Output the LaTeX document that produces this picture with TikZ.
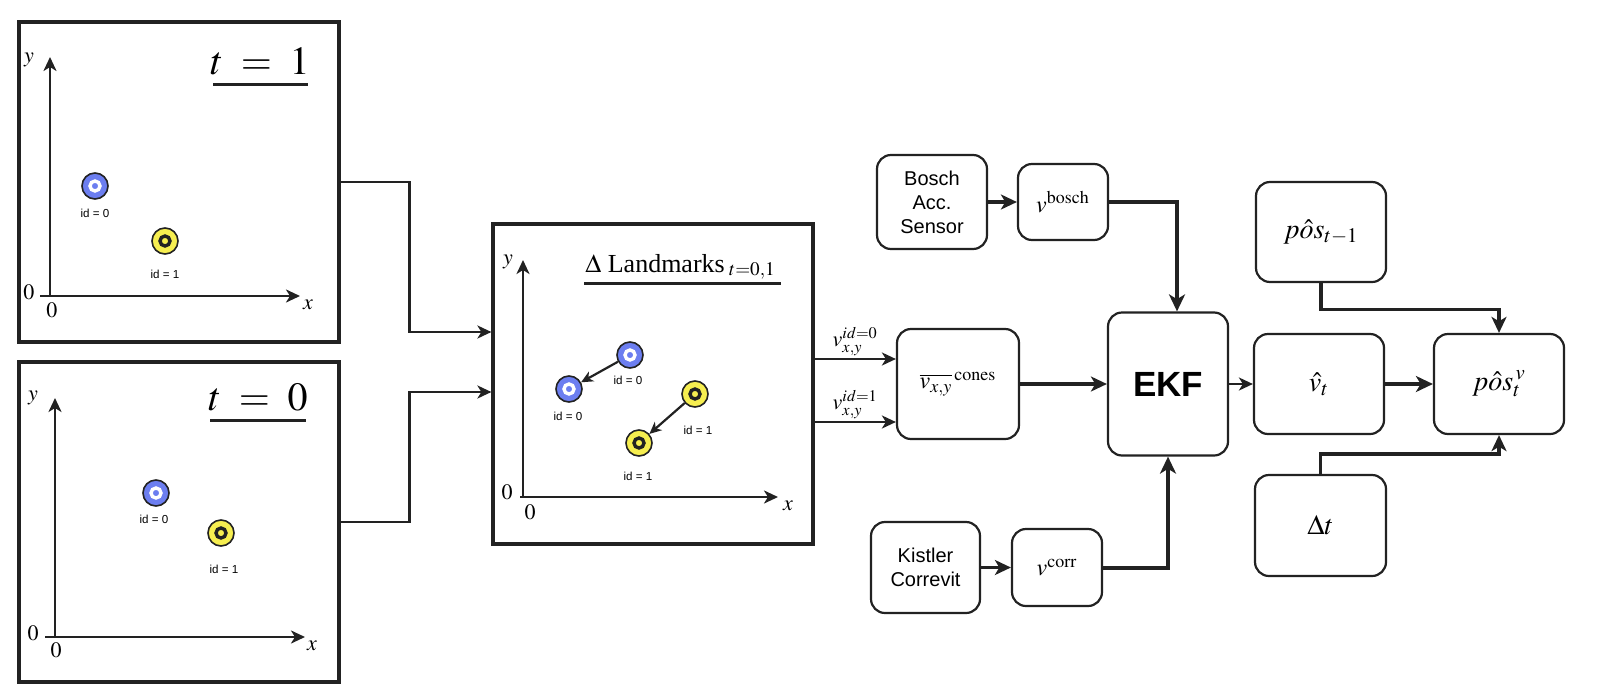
\documentclass[tikz,border=0pt]{standalone}
\usepackage{mathptmx}
\usepackage{fontspec}
\setmainfont{Liberation Serif}
\newfontfamily\sansf{Liberation Sans}
\usetikzlibrary{arrows.meta}
\definecolor{ink}{RGB}{34,34,34}
\definecolor{lmblue}{RGB}{108,126,240}
\definecolor{lmyellow}{RGB}{246,238,80}

\begin{document}
\begin{tikzpicture}[x=0.5pt,y=-0.5pt,
  >={Stealth[length=7pt,width=6.5pt,inset=2pt]},
  panel/.style={draw=ink, line width=1.6pt, minimum width=160pt, minimum height=160pt, inner sep=0},
  blk/.style={draw=ink, line width=1.1pt, rounded corners=7pt, align=center, inner sep=0, font=\fontsize{10}{12}\selectfont\sansf},
  mblk/.style={blk, font=\fontsize{12}{14}\selectfont},
  axline/.style={->, draw=ink, line width=1.3pt},
  axlbl/.style={inner sep=0, font=\fontsize{11}{13}\selectfont},
  ttl/.style={inner sep=0, anchor=base},
  uline/.style={draw=ink, line width=1.5pt},
  lmb/.style={circle, draw=ink, line width=0.8pt, fill=lmblue, minimum size=13pt, inner sep=0,
    path picture={\draw[white, line width=1.7pt] (path picture bounding box.center) circle (2.5pt);}},
  lmy/.style={circle, draw=ink, line width=0.8pt, fill=lmyellow, minimum size=13pt, inner sep=0,
    path picture={\draw[ink, line width=1.7pt] (path picture bounding box.center) circle (2.5pt);}},
  idlbl/.style={inner sep=0, font=\fontsize{5.8}{7}\selectfont\sansf},
  move/.style={->, draw=ink, line width=1.1pt, >={Stealth[length=6pt,width=5.5pt,inset=1.8pt]}},
  conn/.style={->, draw=ink, line width=1.3pt},
  thk/.style={->, draw=ink, line width=1.6pt, >={Stealth[length=8pt,width=7.5pt,inset=2.2pt]}},
  heavy/.style={->, draw=ink, line width=2pt, >={Stealth[length=8.5pt,width=8pt,inset=2.4pt]}},
  vlbl/.style={inner sep=1pt, font=\fontsize{11}{13}\selectfont}]
\useasboundingbox (0,0) rectangle (1615,685);

% input frames
\node[panel] (p1) at (179,182) {};
\node[panel] (p0) at (179,522) {};
\node[panel] (pd) at (653,384) {};

% frame t = 1
\draw[axline] (40,296) -- (300,296);
\draw[axline] (50,296) -- (50,57);
\node[axlbl] (y1) at (29,60) {$y$};
\node[axlbl] (x1) at (308,305) {$x$};
\node[axlbl] (oa1) at (29,292) {$0$};
\node[axlbl] (ob1) at (52,310) {$0$};
\node[ttl, font=\fontsize{20}{24}\selectfont] (t1) at (260,74) {$t\;=\;1$};
\draw[uline] (213,84) -- (308,84);
\node[lmb] (b1) at (95,186) {};
\node[idlbl] (b1l) at (95,213) {id = 0};
\node[lmy] (c1) at (165,241) {};
\node[idlbl] (c1l) at (165,274) {id = 1};

% frame t = 0
\draw[axline] (45,637) -- (305,637);
\draw[axline] (55,637) -- (55,398);
\node[axlbl] (y0) at (33,398) {$y$};
\node[axlbl] (x0) at (312,646) {$x$};
\node[axlbl] (oa0) at (33,633) {$0$};
\node[axlbl] (ob0) at (56,650) {$0$};
\node[ttl, font=\fontsize{20}{24}\selectfont] (t0) at (258,410) {$t\;=\;0$};
\draw[uline] (210,420) -- (306,420);
\node[lmb] (b0) at (156,493) {};
\node[idlbl] (b0l) at (154,519) {id = 0};
\node[lmy] (c0) at (221,533) {};
\node[idlbl] (c0l) at (224,569) {id = 1};

% delta frame
\draw[axline] (520,497) -- (778,497);
\draw[axline] (523,497) -- (523,260);
\node[axlbl] (yd) at (508,262) {$y$};
\node[axlbl] (xd) at (788,506) {$x$};
\node[axlbl] (oad) at (507,492) {$0$};
\node[axlbl] (obd) at (530,512) {$0$};
\node[ttl, anchor=base west, font=\fontsize{13}{15}\selectfont] (td) at (585,272) {$\Delta$ Landmarks\,$_{t=0,1}$};
\draw[uline] (584,283) -- (781,283);
\node[lmb] (bA) at (630,355) {};
\node[idlbl] (bAl) at (628,380) {id = 0};
\node[lmb] (bB) at (569,389) {};
\node[idlbl] (bBl) at (568,416) {id = 0};
\node[lmy] (cA) at (695,394) {};
\node[idlbl] (cAl) at (698,430) {id = 1};
\node[lmy] (cB) at (639,443) {};
\node[idlbl] (cBl) at (638,476) {id = 1};
\draw[move] (bA) -- (bB);
\draw[move] (cA) -- (cB);

% blocks
\node[blk, minimum width=55pt, minimum height=47pt] (bosch) at (932,202) {Bosch\\Acc.\\Sensor};
\node[mblk, minimum width=45pt, minimum height=38pt] (vbosch) at (1063,202) {$v^{\mathrm{bosch}}$};
\node[mblk, minimum width=61pt, minimum height=55pt] (cones) at (958,384) {$\overline{v_{x,y}}^{\,\mathrm{cones}}$};
\node[blk, minimum width=60pt, minimum height=71.5pt, font=\fontsize{17.5}{20}\selectfont\sansf\bfseries] (ekf) at (1168,384) {EKF};
\node[blk, minimum width=54.5pt, minimum height=45.5pt] (kistler) at (925.5,567.5) {Kistler\\Correvit};
\node[mblk, minimum width=45pt, minimum height=38.5pt] (vcorr) at (1057,567.5) {$v^{\mathrm{corr}}$};
\node[mblk, minimum width=65pt, minimum height=50pt, font=\fontsize{14}{16}\selectfont] (posprev) at (1321,232) {$p\hat{o}s_{t-1}$};
\node[mblk, minimum width=65pt, minimum height=50pt, font=\fontsize{14}{16}\selectfont] (vhat) at (1319,384) {$\hat{v}_t$};
\node[mblk, minimum width=65pt, minimum height=50pt, font=\fontsize{14}{16}\selectfont] (pos) at (1499,384) {$p\hat{o}s_t^{\,v}$};
\node[mblk, minimum width=65.5pt, minimum height=50.5pt, font=\fontsize{14}{16}\selectfont] (dt) at (1320.5,525.5) {$\Delta t$};

% connectors
\draw[conn] (p1.east) -- ++(69,0) |- ([yshift=26pt]pd.west);
\draw[conn] (p0.east) -- ++(69,0) |- ([yshift=-4pt]pd.west);
\draw[conn] ([yshift=12.5pt]pd.east) -- node[vlbl, above] (l0) {$v_{x,y}^{id=0}$} ([yshift=12.5pt]cones.west);
\draw[conn] ([yshift=-19pt]pd.east) -- node[vlbl, above] (l1) {$v_{x,y}^{id=1}$} ([yshift=-19pt]cones.west);
\draw[thk] (cones) -- (ekf);
\draw[thk] (bosch) -- (vbosch);
\draw[heavy] (vbosch) -| ([xshift=4.5pt]ekf.north);
\draw[thk] (kistler) -- (vcorr);
\draw[heavy] (vcorr) -| (ekf.south);
\draw[conn] (ekf) -- (vhat);
\draw[heavy] (vhat) -- (pos);
\draw[thk] (posprev.south) -- ++(0,26) -| (pos.north);
\draw[thk] (dt.north) -- ++(0,-20) -| (pos.south);
\end{tikzpicture}
\end{document}
